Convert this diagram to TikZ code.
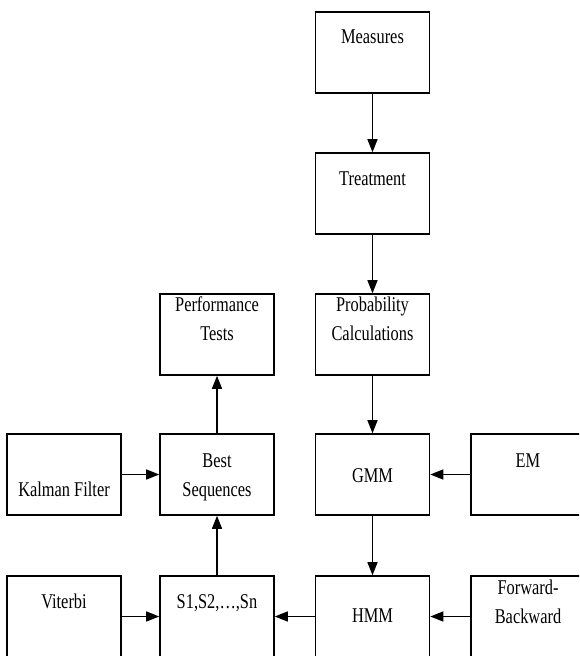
\documentclass[tikz,border=0pt]{standalone}
\usepackage{fontspec}
\setmainfont{Liberation Serif}[FakeStretch=0.78]
\usetikzlibrary{arrows.meta,calc}
\tikzset{
  box/.style={draw=black, line width=1.6pt, minimum width=114pt, minimum height=81pt, inner sep=0pt, fill=white},
  lbl/.style={anchor=base, inner sep=0pt, align=center, font=\fontsize{21}{29}\selectfont},
  conn/.style={line width=1.4pt, -{Triangle[length=13pt,width=10pt]}}
}
\begin{document}
\begin{tikzpicture}[x=1pt,y=-1pt]
\clip (0,0) rectangle (579,656);
\fill[white] (0,0) rectangle (579,656);
% boxes
\node[box] (meas) at (372.5,52.5) {};
\node[box] (treat) at (372.5,193.5) {};
\node[box] (prob) at (372.5,334.5) {};
\node[box] (perf) at (217,334.5) {};
\node[box] (kal) at (64,474.5) {};
\node[box] (best) at (217,474.5) {};
\node[box] (gmm) at (372.5,474.5) {};
\node[box] (em) at (528,474.5) {};
\node[box] (vit) at (64,616.5) {};
\node[box] (s1) at (217,616.5) {};
\node[box] (hmm) at (372.5,616.5) {};
\node[box] (fb) at (528,616.5) {};
% labels (base anchor of a two-line label is the baseline of its last line)
\node[lbl] (tmeas) at ($(meas.north)+(0,32)$) {Measures};
\node[lbl] (ttreat) at ($(treat.north)+(0,33)$) {Treatment};
\node[lbl] (tprob) at ($(prob.north)+(0,47)$) {Probability\\Calculations};
\node[lbl] (tperf) at ($(perf.north)+(0,47)$) {Performance\\Tests};
\node[lbl] (tkal) at ($(kal.north)+(0,63)$) {Kalman Filter};
\node[lbl] (tbest) at ($(best.north)+(0,63)$) {Best\\Sequences};
\node[lbl] (tgmm) at ($(gmm.north)+(0,49)$) {GMM};
\node[lbl] (tem) at ($(em.north)+(0,34)$) {EM};
\node[lbl] (tvit) at ($(vit.north)+(0,33)$) {Viterbi};
\node[lbl] (ts1) at ($(s1.north)+(0,33)$) {S1,S2,…,Sn};
\node[lbl] (thmm) at ($(hmm.north)+(0,47)$) {HMM};
\node[lbl] (tfb) at ($(fb.north)+(0,48)$) {Forward-\\Backward};
% connectors
\draw[conn] (meas.south) -- (treat.north);
\draw[conn] (treat.south) -- (prob.north);
\draw[conn] (prob.south) -- (gmm.north);
\draw[conn] (gmm.south) -- (hmm.north);
\draw[conn] (em.west) -- (gmm.east);
\draw[conn] (fb.west) -- (hmm.east);
\draw[conn] (hmm.west) -- (s1.east);
\draw[conn] (vit.east) -- (s1.west);
\draw[conn] (kal.east) -- (best.west);
\draw[conn] (s1.north) -- (best.south);
\draw[conn] (best.north) -- (perf.south);
\end{tikzpicture}
\end{document}
